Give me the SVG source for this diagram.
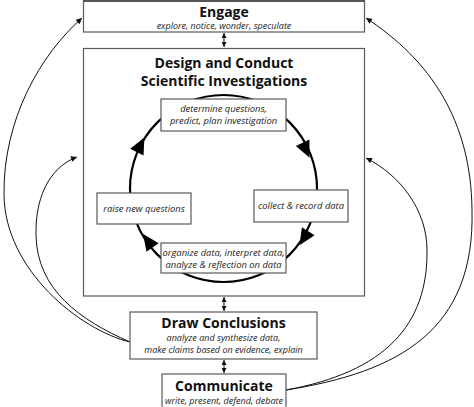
<svg xmlns="http://www.w3.org/2000/svg" width="474" height="407" viewBox="0 0 474 407">
<defs>
<style>
.box{fill:#fff;stroke:#5a5a5a;stroke-width:1.2}
.title{font-family:"Open Sans","Noto Sans",sans-serif;font-weight:bold;font-size:14px;fill:#111;text-anchor:middle}
.sub{font-family:"Open Sans","Noto Sans",sans-serif;font-style:italic;font-size:9px;fill:#222;text-anchor:middle}
.cyc{font-size:9.4px}
.curve{fill:none;stroke:#111;stroke-width:1}
.dbl{fill:none;stroke:#111;stroke-width:1}
.ring{fill:none;stroke:#000;stroke-width:2.2}
</style>
<marker id="ah" viewBox="0 0 10 10" refX="10" refY="5" markerWidth="8" markerHeight="6" markerUnits="userSpaceOnUse" orient="auto">
<path d="M0,0 L10,5 L0,10 Z" fill="#111"/>
</marker>
<marker id="sm" viewBox="0 0 10 10" refX="10" refY="5" markerWidth="5" markerHeight="5" markerUnits="userSpaceOnUse" orient="auto-start-reverse">
<path d="M0,0 L10,5 L0,10 Z" fill="#111"/>
</marker>
<path id="big" d="M8.5,0 L-8,-7.5 L-8,7.5 Z" fill="#000"/>
</defs>

<g id="connectors">
<path class="curve" d="M130,342 C80,330 5,270 4,195 C3,120 40,55 82,18" marker-end="url(#ah)"/>
<path class="curve" d="M130,342 C80,320 37,290 36,235 C35,190 55,165 77,157" marker-end="url(#ah)"/>
<path class="curve" d="M286,390 C400,372 475,330 472,210 C471,120 430,60 366,18" marker-end="url(#ah)"/>
<path class="curve" d="M286,390 C385,372 428,325 427,250 C427,210 400,175 366,158" marker-end="url(#ah)"/>
<path class="dbl" d="M224,33 L224,47" marker-start="url(#sm)" marker-end="url(#sm)"/>
<path class="dbl" d="M224,297 L224,311" marker-start="url(#sm)" marker-end="url(#sm)"/>
<path class="dbl" d="M224,360 L224,373" marker-start="url(#sm)" marker-end="url(#sm)"/>
</g>

<g id="engage">
<rect class="box" x="83.5" y="0.5" width="281" height="31.5"/>
<line x1="83" y1="1" x2="365" y2="1" stroke="#555" stroke-width="2"/>
<text class="title" x="224" y="16.5">Engage</text>
<text class="sub" x="224" y="29">explore, notice, wonder, speculate</text>
</g>

<g id="design">
<rect class="box" x="83.5" y="48.5" width="281" height="247.5"/>
<text class="title" x="224" y="68">Design and Conduct</text>
<text class="title" x="224" y="85.5">Scientific Investigations</text>
</g>

<g id="cycle">
<circle class="ring" cx="223.5" cy="188.5" r="93.5"/>
<use href="#big" transform="translate(140.5,145) rotate(297)"/>
<use href="#big" transform="translate(306,150) rotate(65)"/>
<use href="#big" transform="translate(304,238) rotate(122)"/>
<use href="#big" transform="translate(148,241) rotate(235)"/>
</g>

<g id="determine">
<rect class="box" x="161" y="99" width="125" height="32"/>
<text class="sub cyc" x="223.5" y="112">determine questions,</text>
<text class="sub cyc" x="223.5" y="124">predict, plan investigation</text>
</g>

<g id="collect">
<rect class="box" x="254" y="190" width="94" height="32"/>
<text class="sub cyc" x="301" y="209">collect &amp; record data</text>
</g>

<g id="raise">
<rect class="box" x="97" y="193" width="94" height="31"/>
<text class="sub cyc" x="144" y="211.5">raise new questions</text>
</g>

<g id="organize">
<rect class="box" x="161" y="243" width="125" height="30"/>
<text class="sub cyc" x="223.5" y="256">organize data, interpret data,</text>
<text class="sub cyc" x="223.5" y="268">analyze &amp; reflection on data</text>
</g>

<g id="draw">
<rect class="box" x="130" y="312" width="187" height="47"/>
<text class="title" x="223.5" y="328">Draw Conclusions</text>
<text class="sub" x="223.5" y="341">analyze and synthesize data,</text>
<text class="sub" x="223.5" y="353">make claims based on evidence, explain</text>
</g>

<g id="communicate">
<rect class="box" x="162" y="374" width="124" height="36"/>
<text class="title" x="224" y="391">Communicate</text>
<text class="sub" x="224" y="403.5">write, present, defend, debate</text>
</g>
</svg>
